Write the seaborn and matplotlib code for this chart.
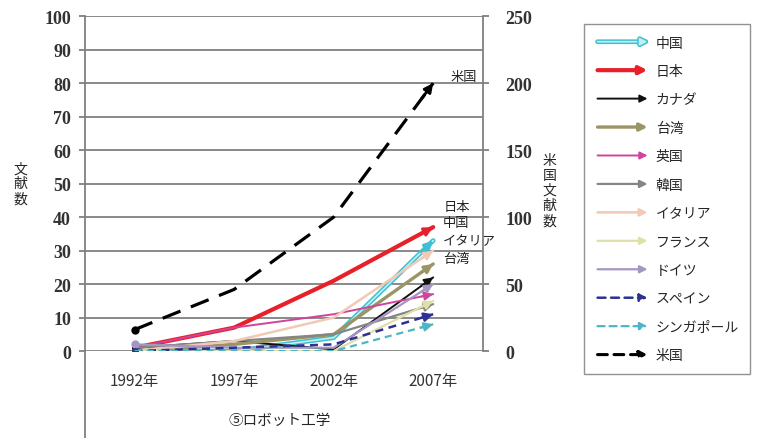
import matplotlib
matplotlib.use("Agg")
import matplotlib.pyplot as plt
import matplotlib.patheffects as pe
import seaborn as sns
import pandas as pd
from matplotlib.lines import Line2D
from matplotlib.patches import FancyArrowPatch
from matplotlib.legend_handler import HandlerBase

years = ["1992年", "1997年", "2002年", "2007年"]

# left axis series (文献数)
china = [0, 0, 4, 33]
japan = [1, 7, 21, 37]
canada = [1, 3, 0.5, 22]
taiwan = [0, 2, 5, 26]
uk = [1, 7, 11, 17]
korea = [1, 3, 5, 14]
italy = [0, 3, 10, 30]
france = [0, 0, 0, 15]
germany = [2, 1, 1, 20]
spain = [0, 1, 2, 11]
singapore = [0, 0, 0, 8]
# right axis series (米国文献数)
usa = [16, 46, 100, 200]

# name, values, colour, linestyle, width, marker at first point
series = [
    ("中国", china, "#3fc0d0", "-", 3.2, None),
    ("日本", japan, "#e8202a", "-", 3.0, None),
    ("カナダ", canada, "#111111", "-", 1.4, "o"),
    ("台湾", taiwan, "#9b9565", "-", 2.4, None),
    ("英国", uk, "#d0449c", "-", 1.4, None),
    ("韓国", korea, "#858585", "-", 1.6, None),
    ("イタリア", italy, "#f1c9b4", "-", 1.8, None),
    ("フランス", france, "#dfe0a8", "-", 1.6, None),
    ("ドイツ", germany, "#a596c4", "-", 1.6, "o"),
    ("スペイン", spain, "#2f3192", "--", 1.8, "o"),
    ("シンガポール", singapore, "#4cb6c4", "--", 1.6, None),
]

jp = ["Noto Sans CJK JP", "DejaVu Sans"]

sns.set_theme(style="white")
plt.rcParams["font.family"] = jp
plt.rcParams["lines.dashed_pattern"] = [3.2, 2.2]


class ArrowHandler(HandlerBase):
    def create_artists(self, legend, orig, xdescent, ydescent, width, height, fontsize, trans):
        y = height / 2 - ydescent
        p = FancyArrowPatch((-xdescent, y), (-xdescent + width, y), arrowstyle="-|>",
                            mutation_scale=11, color=orig.get_color(),
                            lw=orig.get_linewidth(), linestyle=orig.get_linestyle(),
                            transform=trans, path_effects=orig.get_path_effects())
        return [p]


def china_fx():
    return [pe.Stroke(linewidth=3.4, foreground="#3fc0d0"), pe.Normal()]


fig = plt.figure(figsize=(7.57, 4.39), dpi=100)
ax = fig.add_axes([0.112, 0.198, 0.526, 0.763])
ax2 = ax.twinx()

x = list(range(len(years)))
handles = []
for name, vals, color, ls, lw, mk in series:
    df = pd.DataFrame({"x": x, "y": vals})
    kw = {}
    if name == "中国":
        kw = dict(path_effects=china_fx())
        draw_color, draw_lw = "#bff0f4", 1.2
    else:
        draw_color, draw_lw = color, lw
    sns.lineplot(data=df, x="x", y="y", ax=ax, color=draw_color, linestyle=ls, lw=draw_lw,
                 marker=mk if mk else "", markevery=[0], markersize=6 if name == "ドイツ" else 5,
                 markeredgewidth=0, zorder=3, **kw)
    # arrow head at the last point, along the last segment
    tail = (x[-1] - 0.12, vals[-1] - 0.12 * (vals[-1] - vals[-2]))
    ax.annotate("", xy=(x[-1], vals[-1]), xytext=tail,
                arrowprops=dict(arrowstyle="-|>", color=color, lw=min(lw, 2.0),
                                mutation_scale=13, shrinkA=0, shrinkB=0), zorder=3)
    h = Line2D([], [], color=draw_color, lw=draw_lw, linestyle=ls, label=name)
    if name == "中国":
        h.set_path_effects(china_fx())
    handles.append(h)

df_us = pd.DataFrame({"x": x, "y": usa})
sns.lineplot(data=df_us, x="x", y="y", ax=ax2, color="black", linestyle="--",
             lw=2.3, marker="o", markevery=[0], markersize=6, markeredgewidth=0)
ax2.lines[-1].set_dashes([6, 3.5])
tail = (x[-1] - 0.12, usa[-1] - 0.12 * (usa[-1] - usa[-2]))
ax2.annotate("", xy=(x[-1], usa[-1]), xytext=tail,
             arrowprops=dict(arrowstyle="-|>", color="black", lw=2.0,
                             mutation_scale=13, shrinkA=0, shrinkB=0))
handles.append(Line2D([], [], color="black", lw=2.2, linestyle="--", label="米国"))

# axes styling
ax.set_xlim(-0.5, 3.5)
ax.set_ylim(0, 100)
ax2.set_ylim(0, 250)
ax.set_yticks(range(0, 101, 10))
ax2.set_yticks(range(0, 251, 50))
ax.grid(axis="y", color="#808080", lw=1.3)
ax.grid(axis="x", visible=False)
ax.set_xticks(x)
ax.set_xticklabels(years, fontsize=11, color="#333333")
ax.set_xticks([0.5, 1.5, 2.5], minor=True)
ax.tick_params(axis="x", which="major", length=0, pad=15)
ax.tick_params(axis="x", which="minor", length=31, width=1.3, color="#808080", direction="out")
ax.tick_params(axis="y", length=4, width=1.3, color="#808080", direction="out", pad=6,
               labelsize=13, labelcolor="#333333", labelfontfamily="Liberation Serif")
ax2.tick_params(axis="y", length=4, width=1.3, color="#808080", direction="out", pad=12,
                labelsize=13, labelcolor="#333333", labelfontfamily="Liberation Serif")
for t in ax.get_yticklabels() + ax2.get_yticklabels():
    t.set_fontweight("bold")
ax.set_xlabel("")
ax.set_ylabel("")
ax2.set_ylabel("")
for a in (ax, ax2):
    for s in a.spines.values():
        s.set_visible(False)
ax.spines["left"].set_visible(True)
ax.spines["left"].set_color("#808080")
ax.spines["left"].set_linewidth(1.3)
ax2.spines["right"].set_visible(True)
ax2.spines["right"].set_color("#808080")
ax2.spines["right"].set_linewidth(1.3)
ax.plot([0, 0], [0, -0.27], transform=ax.transAxes, clip_on=False, color="#808080", lw=1.3)

# labels
fig.text(0.027, 0.58, "文\n献\n数", fontsize=10, ha="center", va="center", linespacing=1.1)
fig.text(0.726, 0.565, "米\n国\n文\n献\n数", fontsize=10, ha="center", va="center", linespacing=1.1)
ax.text(0.49, -0.205, "⑤ロボット工学", transform=ax.transAxes, fontsize=10.5, ha="center", va="center")

ax.text(3.17, 82, "米国", fontsize=9.5, ha="left", va="center", color="#222222")
for txt, yv in [("日本", 43.3), ("中国", 38.5), ("イタリア", 33), ("台湾", 27.5)]:
    ax.text(3.1, yv, txt, fontsize=9.5, ha="left", va="center", color="#222222")

leg = fig.legend(handles=handles, handler_map={Line2D: ArrowHandler()},
                 loc="upper left", bbox_to_anchor=(0.771, 0.942), borderaxespad=0,
                 frameon=True, fontsize=10, handlelength=4.0, labelspacing=1.04,
                 borderpad=0.8, handletextpad=0.4, fancybox=False, edgecolor="#777777")
leg.get_frame().set_linewidth(1.0)

fig.savefig("out.png", dpi=100)
